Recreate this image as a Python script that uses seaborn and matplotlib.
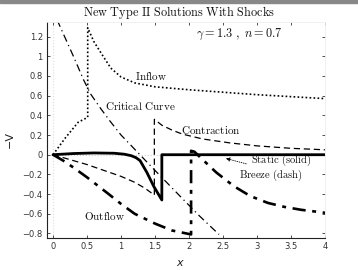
import numpy as np
import pandas as pd
import matplotlib
matplotlib.use("Agg")
import matplotlib.pyplot as plt
import seaborn as sns
from matplotlib.patches import Rectangle

# curves (x, -v)
inflow_x = [0, 0.18, 0.37, 0.51, 0.51, 0.6, 0.7, 0.85, 1.0, 1.2, 1.5, 2.0, 2.6, 3.0, 3.5, 4.0]
inflow_y = [0, 0.17, 0.33, 0.38, 1.29, 1.15, 1.04, 0.88, 0.79, 0.73, 0.69, 0.66, 0.63, 0.61, 0.59, 0.57]

static_x = [0, 0.3, 0.6, 0.9, 1.05, 1.15, 1.22, 1.28, 1.38, 1.48, 1.6, 1.6, 4.0]
static_y = [0, 0.012, 0.018, 0.015, 0.005, -0.01, -0.03, -0.06, -0.18, -0.32, -0.46, 0, 0]

breeze_x = [0, 0.25, 0.5, 0.75, 1.0, 1.2, 1.35, 1.49, 1.49, 1.6, 1.75, 1.9, 2.2, 2.6, 3.0, 3.5, 4.0]
breeze_y = [0, -0.05, -0.1, -0.16, -0.22, -0.28, -0.34, -0.41, 0.36, 0.3, 0.25, 0.21, 0.16, 0.12, 0.09, 0.065, 0.05]

outflow_x = [0, 0.15, 0.3, 0.5, 0.8, 1.0, 1.2, 1.5, 1.75, 2.03, 2.03, 2.08, 2.17, 2.4, 2.66, 2.9, 3.16, 3.4, 3.65, 4.0]
outflow_y = [0, -0.06, -0.13, -0.23, -0.39, -0.5, -0.6, -0.7, -0.77, -0.81, 0.04, 0.03, -0.03, -0.18, -0.32, -0.42, -0.49, -0.53, -0.56, -0.59]

crit_x = [0.06, 0.3, 0.45, 0.55, 0.7, 0.84, 1.0, 1.25, 1.5, 1.88, 2.15, 2.44]
crit_y = [1.37, 1.0, 0.76, 0.62, 0.47, 0.34, 0.2, 0.02, -0.16, -0.43, -0.62, -0.81]

xticks = [0, 0.5, 1, 1.5, 2, 2.5, 3, 3.5, 4]
xtick_labels = ["0", "0.5", "1", "1.5", "2", "2.5", "3", "3.5", "4"]
yticks = [-0.8, -0.6, -0.4, -0.2, 0, 0.2, 0.4, 0.6, 0.8, 1, 1.2]
ytick_labels = ["\u22120.8", "\u22120.6", "\u22120.4", "\u22120.2", "0", "0.2", "0.4", "0.6", "0.8", "1", "1.2"]

sns.set_style("ticks")
plt.rcParams['font.family'] = ['DejaVu Sans']
plt.rcParams['mathtext.fontset'] = 'cm'

fig = plt.figure(figsize=(3.58, 2.70), dpi=100)
ax = fig.add_axes([0.131, 0.119, 0.777, 0.80])

ax.axvline(0, color='#dddddd', lw=0.8, ls=':', zorder=0)
ax.axhline(0, color='#cccccc', lw=0.8, ls=':', zorder=0)

sns.lineplot(x=crit_x, y=crit_y, sort=False, estimator=None, ax=ax, color='k', lw=0.9, linestyle=(0, (6, 3, 1, 3)))
sns.lineplot(x=inflow_x, y=inflow_y, sort=False, estimator=None, ax=ax, color='k', lw=1.2, linestyle=(0, (1, 1.4)))
sns.lineplot(x=breeze_x, y=breeze_y, sort=False, estimator=None, ax=ax, color='k', lw=0.9, linestyle=(0, (5, 3)))
sns.lineplot(x=outflow_x, y=outflow_y, sort=False, estimator=None, ax=ax, color='k', lw=1.9, linestyle=(0, (5, 2.5, 1.5, 2.5)))
sns.lineplot(x=static_x, y=static_y, sort=False, estimator=None, ax=ax, color='k', lw=2.0)

ax.set_xlim(-0.09, 4.0)
ax.set_ylim(-0.845, 1.35)
ax.set_xticks(xticks)
ax.set_xticklabels(xtick_labels)
ax.set_yticks(yticks)
ax.set_yticklabels(ytick_labels)
ax.tick_params(direction='in', length=2.5, width=0.6, labelsize=6, colors='#333333',
               top=True, right=True, pad=3)
for s in ['left', 'bottom']:
    ax.spines[s].set_color('#222222')
    ax.spines[s].set_linewidth(0.8)
for s in ['top', 'right']:
    ax.spines[s].set_color('#eeeeee')
    ax.spines[s].set_linewidth(0.6)

ax.set_xlabel('x', fontsize=8, fontstyle='italic', color='#222222')
ax.xaxis.set_label_coords(0.478, -0.093)
ax.set_ylabel('\u2212V', fontsize=8, color='#222222')
ax.yaxis.set_label_coords(-0.115, 0.454)

tk = dict(fontsize=8, color='#111111', va='center')
ax.text(1.21, 0.8, r'$\mathrm{Inflow}$', **tk)
ax.text(0.77, 0.49, r'$\mathrm{Critical\ Curve}$', **tk)
ax.text(1.88, 0.25, r'$\mathrm{Contraction}$', **tk)
ax.text(2.91, -0.055, r'$\mathrm{Static\ (solid)}$', fontsize=7.6, color='#111111', va='center')
ax.text(2.73, -0.205, r'$\mathrm{Breeze\ (dash)}$', fontsize=7.6, color='#111111', va='center')
ax.text(0.45, -0.62, r'$\mathrm{Outflow}$', **tk)
ax.text(2.1, 1.22, r'$\gamma = \mathbf{1.3}\ ,\ n = 0.7$', fontsize=8.8, color='#111111', va='center')
ax.annotate('', xy=(2.5, -0.03), xytext=(2.88, -0.1),
            arrowprops=dict(arrowstyle='-|>', color='k', lw=0.6, ls=':', mutation_scale=6))

fig.text(0.5, 0.955, r'$\mathrm{New\ Type\ II\ Solutions\ With\ Shocks}$', fontsize=8.8,
         ha='center', va='center', color='#111111')
fig.patches.append(Rectangle((0, 1 - 3 / 270), 1, 3 / 270, transform=fig.transFigure,
                             color='#888888', zorder=5))

fig.savefig('out.png', dpi=100)
